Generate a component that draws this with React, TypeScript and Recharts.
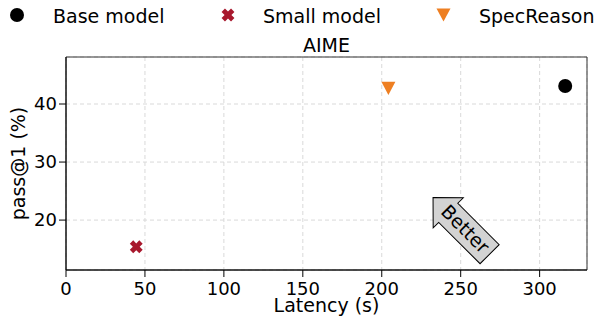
import React from 'react';
import {
  ScatterChart,
  Scatter,
  XAxis,
  YAxis,
  CartesianGrid,
  ReferenceArea,
  ReferenceDot,
} from 'recharts';

const models = ['Base model', 'Small model', 'SpecReason'];
const latency = [316.2, 44.5, 204.2];
const pass1 = [43.1, 15.4, 42.7];
const colors = ['#000000', '#a8182d', '#ee7f22'];

const xTicks = [0, 50, 100, 150, 200, 250, 300];
const yTicks = [20, 30, 40];
const xDomain = [0, 330];
const yDomain = [11.4, 48.1];

// "Better" arrow position (data coords)
const betterX = 250.4;
const betterY = 19.0;

const FONT = "'DejaVu Sans', sans-serif";

const Marker = ({ kind, cx, cy }: { kind: number; cx: number; cy: number }) => {
  if (kind === 0) return <circle cx={cx} cy={cy} r={7} fill={colors[0]} />;
  if (kind === 1) {
    const a = 6.7;
    const b = 2.4;
    const pts = [
      [-b, -a], [b, -a], [b, -b], [a, -b], [a, b], [b, b],
      [b, a], [-b, a], [-b, b], [-a, b], [-a, -b], [-b, -b],
    ].map((p) => p.join(',')).join(' ');
    return (
      <polygon points={pts} fill={colors[1]} transform={`translate(${cx},${cy}) rotate(45)`} />
    );
  }
  return (
    <polygon
      points={`${cx - 7},${cy - 6.6} ${cx + 7},${cy - 6.6} ${cx},${cy + 6.6}`}
      fill={colors[2]}
    />
  );
};

const BetterArrow = (props: any) => {
  const { cx, cy } = props;
  const pts = [
    [-40, 0], [-18.5, -21.3], [-18.5, -13.5], [40, -13.5],
    [40, 13.5], [-18.5, 13.5], [-18.5, 21.3],
  ].map((p) => p.join(',')).join(' ');
  return (
    <g transform={`translate(${cx},${cy}) rotate(45)`}>
      <polygon points={pts} fill="#d3d3d3" stroke="#000" strokeWidth={1} />
      <text x={5} y={-1} textAnchor="middle" dominantBaseline="central" fontSize={19} fill="#000">
        Better
      </text>
    </g>
  );
};

const legendPos = [
  { mx: 17, tx: 53 },
  { mx: 228, tx: 263 },
  { mx: 443.5, tx: 479 },
];

export default function App() {
  const series = models.map((name, i) => ({
    name,
    data: [{ x: latency[i], y: pass1[i] }],
  }));

  return (
    <div style={{ position: 'absolute', left: 0, top: 0, width: 598, height: 320, fontFamily: FONT, background: '#fff' }}>
      <ScatterChart width={598} height={320} margin={{ top: 57, right: 11, bottom: 0, left: 0 }}>
        <CartesianGrid stroke="#d9d9d9" strokeDasharray="4 3" />
        <ReferenceArea
          x1={xDomain[0]}
          x2={xDomain[1]}
          y1={yDomain[0]}
          y2={yDomain[1]}
          fill="none"
          stroke="#333"
          strokeWidth={1}
        />
        <XAxis
          type="number"
          dataKey="x"
          domain={xDomain}
          ticks={xTicks}
          height={50}
          tickSize={7}
          tickMargin={5}
          stroke="#000"
          tick={{ fill: '#000', fontSize: 18 }}
          allowDataOverflow
          label={{
            content: (p: any) => {
              const vb = p.viewBox;
              return (
                <text x={vb.x + vb.width / 2} y={311.5} textAnchor="middle" fontSize={19} fill="#000">
                  Latency (s)
                </text>
              );
            },
          }}
        />
        <YAxis
          type="number"
          dataKey="y"
          domain={yDomain}
          ticks={yTicks}
          width={66}
          tickSize={7}
          tickMargin={2}
          stroke="#000"
          tick={{ fill: '#000', fontSize: 18 }}
          allowDataOverflow
          label={{
            content: (p: any) => {
              const vb = p.viewBox;
              const cy = vb.y + vb.height / 2;
              return (
                <text
                  x={18}
                  y={cy}
                  textAnchor="middle"
                  dominantBaseline="central"
                  fontSize={19}
                  fill="#000"
                  transform={`rotate(-90, 18, ${cy})`}
                >
                  pass@1 (%)
                </text>
              );
            },
          }}
        />
        {series.map((s, i) => (
          <Scatter
            key={s.name}
            name={s.name}
            data={s.data}
            isAnimationActive={false}
            shape={(p: any) => <Marker kind={i} cx={p.cx} cy={p.cy} />}
          />
        ))}
        <ReferenceDot x={betterX} y={betterY} shape={BetterArrow} />
      </ScatterChart>
      <svg
        width={598}
        height={56}
        style={{ position: 'absolute', left: 0, top: 0, pointerEvents: 'none' }}
      >
        {models.map((name, i) => (
          <g key={name}>
            <Marker kind={i} cx={legendPos[i].mx} cy={15} />
            <text x={legendPos[i].tx} y={22.5} fontSize={19} fill="#000">
              {name}
            </text>
          </g>
        ))}
        <text x={326.5} y={51.7} textAnchor="middle" fontSize={19} fill="#000">
          AIME
        </text>
      </svg>
    </div>
  );
}
